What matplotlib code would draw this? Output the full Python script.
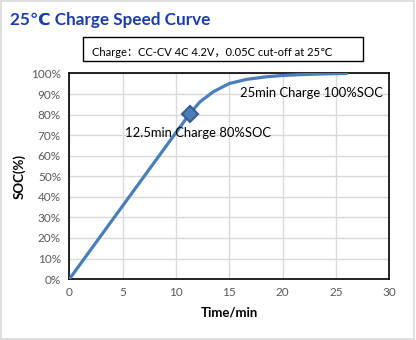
import matplotlib
matplotlib.use('Agg')

import matplotlib.pyplot as plt
from matplotlib.patches import Rectangle

# charge curve at 25C, time in minutes vs state of charge in percent
time_min = [0, 11.3, 12.25, 13.5, 15.0, 16.6, 18.5, 20.0, 22.0, 24.0, 26.0]
soc_pct = [0, 80.5, 86.2, 91.1, 95.1, 97.1, 98.4, 99.0, 99.5, 99.8, 100.0]

# highlighted point on the curve
mark_time = 11.3
mark_soc = 80.5

x_ticks = [0, 5, 10, 15, 20, 25, 30]
y_ticks = [0, 10, 20, 30, 40, 50, 60, 70, 80, 90, 100]

title = '25℃ Charge Speed Curve'
condition = 'Charge：CC-CV 4C 4.2V，0.05C cut-off at 25℃'
note_80 = '12.5min Charge 80%SOC'
note_100 = '25min Charge 100%SOC'

plt.rcParams['font.family'] = ['Lato', 'DejaVu Sans', 'Noto Sans CJK SC']

fig = plt.figure(figsize=(4.16, 3.40), dpi=100)
fig.patch.set_facecolor('white')

# thin frame round the whole chart
fig.add_artist(Rectangle((0.002, 0.003), 0.994, 0.994, transform=fig.transFigure,
                         fill=False, edgecolor='#d9d9d9', linewidth=1.2))

ax = fig.add_axes([0.1666, 0.179, 0.7692, 0.605])

ax.plot(time_min, soc_pct, color='#4a7ebb', linewidth=2.3, solid_capstyle='round', zorder=3)
ax.plot([mark_time], [mark_soc], marker='D', markersize=8, color='#4a7ebb',
        markeredgecolor='#385d8a', markeredgewidth=1.5, zorder=4)

ax.set_xlim(0, 30)
ax.set_ylim(0, 100)
ax.set_xticks(x_ticks)
ax.set_yticks(y_ticks)
ax.set_yticklabels(['{}%'.format(v) for v in y_ticks])
ax.grid(True, color='#d9d9d9', linewidth=1.0, zorder=0)
ax.set_axisbelow(True)
ax.tick_params(length=0, labelsize=8.5, labelcolor='#595959', pad=6)
for s in ax.spines.values():
    s.set_color('black')
    s.set_linewidth(1.2)

ax.set_xlabel('Time/min', fontsize=9.5, fontweight='bold', labelpad=6)
ax.set_ylabel('SOC(%)', fontsize=9.5, fontweight='bold', labelpad=3.5)

ax.text(5.2, 71.0, note_80, fontsize=9.4, color='black', va='center', ha='left', zorder=5)
ax.text(16.0, 90.4, note_100, fontsize=9.4, color='black', va='center', ha='left', zorder=5)

fig.text(0.024, 0.94, title, fontsize=12.3, fontweight='bold', color='#1a3cad',
         va='center', ha='left')

# condition box under the title
fig.add_artist(Rectangle((0.2, 0.82), 0.673, 0.071, transform=fig.transFigure,
                         fill=False, edgecolor='black', linewidth=1.0))
fig.text(0.222, 0.847, condition, fontsize=8, color='black', va='center', ha='left')

fig.savefig('out.png', dpi=100)
